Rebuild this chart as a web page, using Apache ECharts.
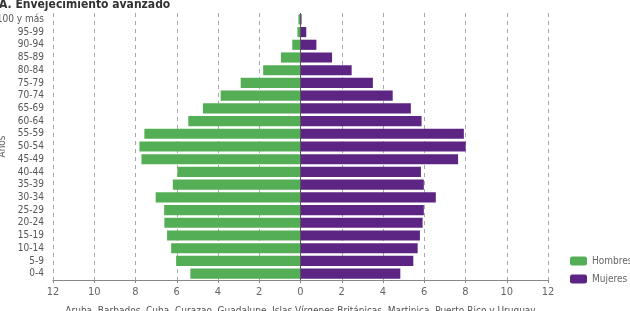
<!DOCTYPE html>
<html>
<head>
<meta charset="utf-8">
<script src="https://cdn.jsdelivr.net/npm/echarts@6/dist/echarts.min.js"></script>
<style>html,body{margin:0;padding:0;background:#fff}#c{width:630px;height:311px}</style>
</head>
<body>
<div id="c"></div>
<script>
var categories = ['0-4','5-9','10-14','15-19','20-24','25-29','30-34','35-39','40-44','45-49','50-54','55-59','60-64','65-69','70-74','75-79','80-84','85-89','90-94','95-99','100 y más'];
var hombres = [5.34,6.03,6.27,6.47,6.6,6.61,7.02,6.19,5.97,7.71,7.81,7.57,5.44,4.73,3.87,2.9,1.81,0.95,0.4,0.15,0.1];
var mujeres = [4.84,5.47,5.68,5.79,5.92,5.98,6.56,5.98,5.84,7.64,8.01,7.92,5.87,5.35,4.47,3.51,2.48,1.53,0.77,0.28,0.05];
var xTicks = [-12,-10,-8,-6,-4,-2,0,2,4,6,8,10,12];

var FONT = "'Liberation Sans Narrow', 'DejaVu Sans Condensed', 'Liberation Sans', sans-serif";
var chart = echarts.init(document.getElementById('c'), null, {renderer:'canvas'});
chart.setOption({
  animation: false,
  title: {
    text: 'A. Envejecimiento avanzado',
    left: -6, top: -6,
    textStyle: {fontFamily: FONT, fontSize: 12, fontWeight: 'bold', color: '#333'}
  },
  legend: {
    orient: 'vertical', left: 565, top: 251,
    itemWidth: 17, itemHeight: 9, itemGap: 8,
    textStyle: {fontFamily: FONT, fontSize: 10, color: '#666', width: 50, overflow: 'none'},
    data: ['Hombres','Mujeres']
  },
  grid: {left: 53, right: 82, top: 13, bottom: 31, containLabel: false, outerBoundsMode: 'none'},
  xAxis: {
    type: 'value', min: xTicks[0], max: xTicks[xTicks.length-1], interval: 2,
    name: 'Aruba, Barbados, Cuba, Curazao, Guadalupe, Islas Vírgenes Británicas, Martinica, Puerto Rico y Uruguay',
    nameLocation: 'middle', nameGap: 26,
    nameTextStyle: {fontFamily: FONT, fontSize: 10, color: '#555'},
    axisLine: {show: true, lineStyle: {color: '#888', width: 1}},
    axisTick: {show: true, length: 3, lineStyle: {color: '#888'}},
    axisLabel: {fontFamily: FONT, fontSize: 11, color: '#666', margin: 7,
      formatter: function(v){ return Math.abs(v); }},
    splitLine: {show: true, lineStyle: {color: '#aaa', type: [4,4], width: 1}}
  },
  yAxis: {
    type: 'category', data: categories,
    name: 'Años', nameLocation: 'middle', nameGap: 46, nameRotate: 90, nameMoveOverlap: false,
    nameTextStyle: {fontFamily: FONT, fontSize: 10, color: '#666'},
    axisLine: {show: false}, axisTick: {show: false},
    axisLabel: {interval: 0, fontFamily: FONT, fontSize: 10, color: '#555', margin: 9}
  },
  series: [
    {
      name: 'Hombres', type: 'bar', stack: 'p', barCategoryGap: '20%',
      itemStyle: {color: '#54ae56'},
      data: hombres.map(function(v){ return -v; }),
      markLine: {
        silent: true, symbol: 'none', label: {show: false},
        lineStyle: {color: '#555', type: 'solid', width: 1},
        data: [{xAxis: 0}]
      }
    },
    {
      name: 'Mujeres', type: 'bar', stack: 'p', barCategoryGap: '20%',
      itemStyle: {color: '#5c2583'},
      data: mujeres
    }
  ]
});
</script>
</body>
</html>
